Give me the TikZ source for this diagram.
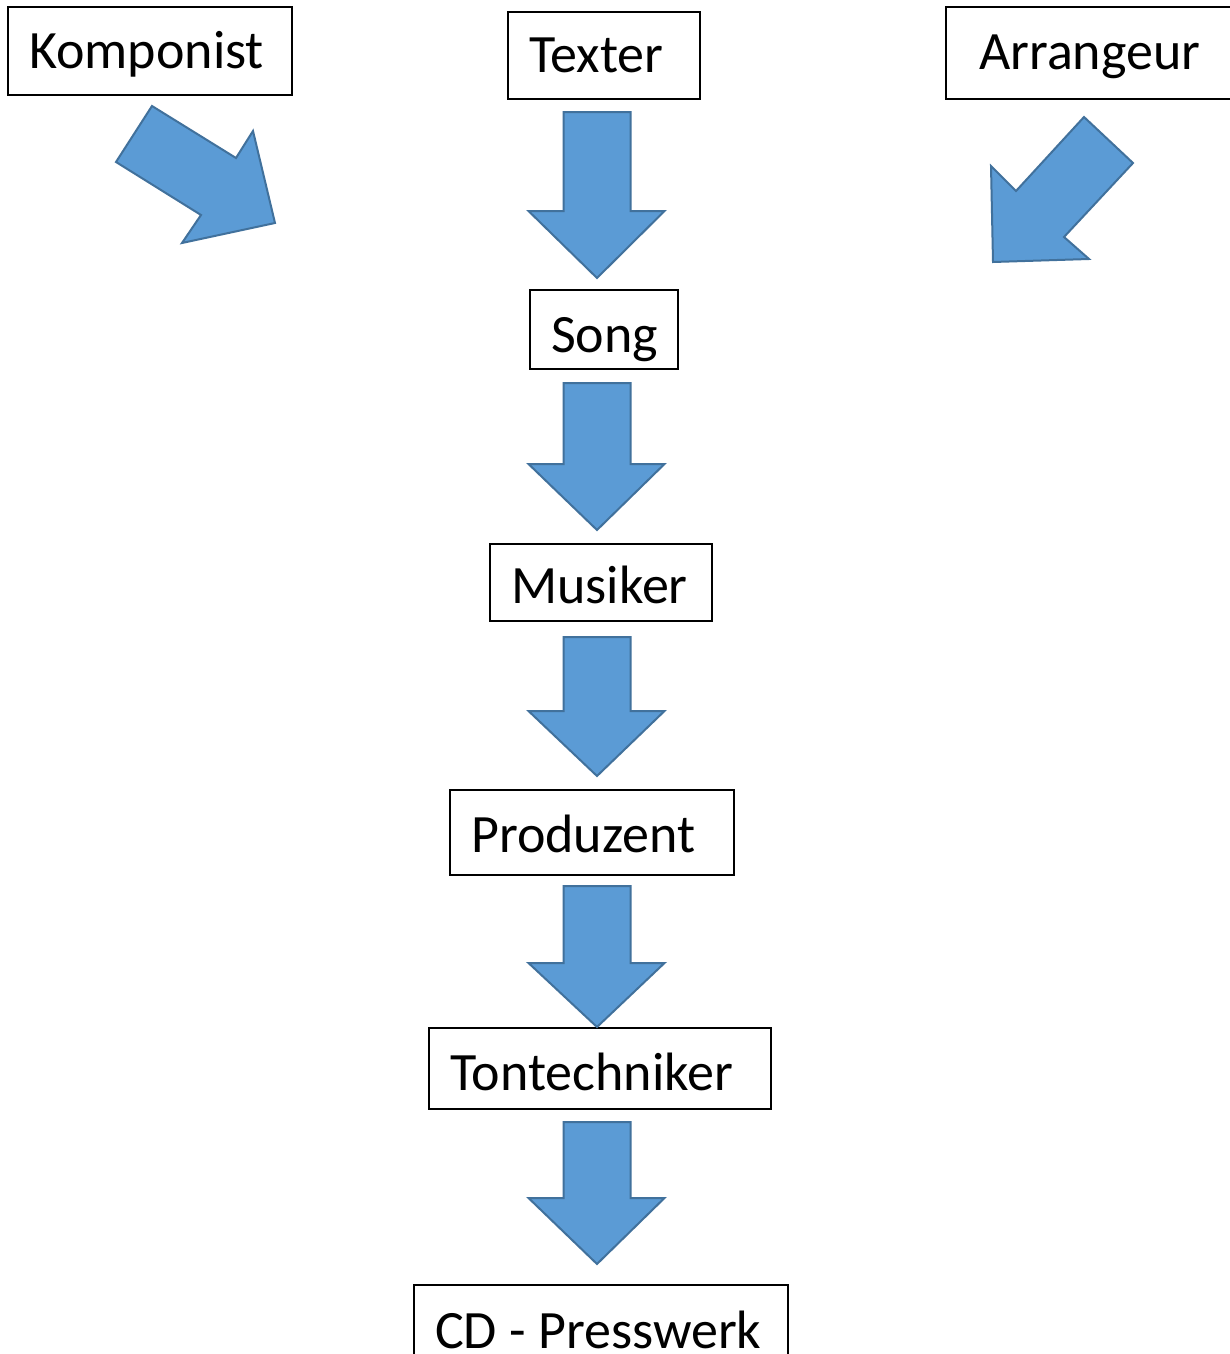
\documentclass[tikz,border=0pt]{standalone}
\usepackage{fontspec}
\setmainfont{Carlito}
\definecolor{arrowfill}{HTML}{5B9BD5}
\definecolor{arrowline}{HTML}{41719C}
\tikzset{
  x=1pt, y=-1pt,
  box/.style={draw=black, line width=1.6pt, fill=white},
  lbl/.style={anchor=base west, inner sep=0pt, font=\fontsize{54}{60}\selectfont},
  blockarrow/.style={fill=arrowfill, draw=arrowline, line width=2pt, line join=miter},
}
% down block arrow: #1 centre x, #2 shaft top y, #3 head start y, #4 tip y
\newcommand\blockdown[4]{%
  \draw[blockarrow] (#1-33.5,#2) -- (#1+33.5,#2) -- (#1+33.5,#3) -- (#1+67.5,#3)
    -- (#1,#4) -- (#1-68.5,#3) -- (#1-33.5,#3) -- cycle;}
\begin{document}
\begin{tikzpicture}
\useasboundingbox (0,0) rectangle (1229,1354);
\fill[white] (0,0) rectangle (1229,1354);

% boxes
\draw[box] (8,7) rectangle (292,95);
\draw[box] (508,12) rectangle (700,99);
\draw[box] (946,7) rectangle (1240,99);
\draw[box] (530,290) rectangle (678,369);
\draw[box] (490,544) rectangle (712,621);
\draw[box] (450,790) rectangle (734,875);
\draw[box] (429,1028) rectangle (771,1109);
\draw[box] (414,1285) rectangle (788,1370);

% labels
\node[lbl] (tkomp) at (29,68) {Komponist};
\node[lbl] (ttexter) at (529,73) {Texter};
\node[lbl] (tarr) at (979,70) {Arrangeur};
\node[lbl] (tsong) at (551,352) {Song};
\node[lbl] (tmus) at (511,603) {Musiker};
\node[lbl] (tprod) at (471,852) {Produzent};
\node[lbl] (tton) at (450,1090) {Tontechniker};
\node[lbl] (tcd) at (435,1348) {CD - Presswerk};

% diagonal arrows
\draw[blockarrow] (152,106) -- (236,158) -- (253,131) -- (275,223) -- (182,243)
  -- (201,215) -- (116,162) -- cycle;
\draw[blockarrow] (1084,117) -- (1133,163) -- (1064,237) -- (1089,259) -- (993,262)
  -- (991,166) -- (1016,191) -- cycle;

% down arrows
\blockdown{597}{112}{211}{278}
\blockdown{597}{383}{464}{530}
\blockdown{597}{637}{711}{776}
\blockdown{597}{886}{963}{1027}
\blockdown{597}{1122}{1198}{1264}
\end{tikzpicture}
\end{document}
